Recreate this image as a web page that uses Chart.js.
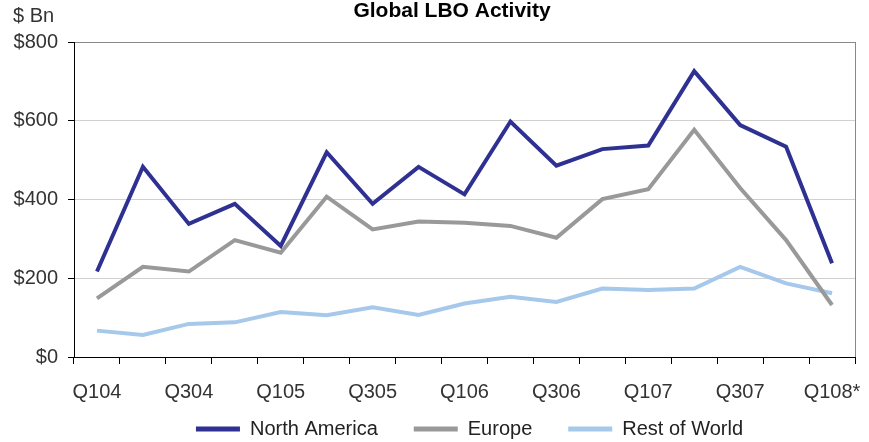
<!DOCTYPE html>
<html>
<head>
<meta charset="utf-8">
<title>Global LBO Activity</title>
<script src="https://cdn.jsdelivr.net/npm/chart.js@4.4.1/dist/chart.umd.min.js"></script>
<style>
  html, body { margin: 0; padding: 0; background: #fff; }
</style>
</head>
<body>
<canvas id="lbo-chart" width="869" height="442"></canvas>
<script>
// Quarterly LBO volume by region, $ Bn
const quarters = ["Q104", "Q204", "Q304", "Q404", "Q105", "Q205", "Q305", "Q405",
  "Q106", "Q206", "Q306", "Q406", "Q107", "Q207", "Q307", "Q407", "Q108*"];
const northAmerica = [217, 483, 338, 389, 282, 520, 389, 483, 413, 598, 486, 528, 537, 726, 589, 534, 238];
const europe = [149, 229, 217, 297, 265, 407, 324, 344, 341, 333, 303, 401, 426, 577, 429, 297, 132];
const restOfWorld = [67, 56, 84, 88, 114, 106, 126, 107, 136, 153, 140, 174, 170, 174, 229, 187, 162];
const yTicks = [0, 200, 400, 600, 800];

const FONT = "'Liberation Sans', Arial, sans-serif";
Chart.defaults.font.family = FONT;

// title, unit label, and a small shift so the legend sits under the plot
const headings = {
  id: "headings",
  afterLayout(chart) {
    const lg = chart.legend;
    lg.left += 84;
    lg.top -= 19;
    lg.bottom -= 19;
  },
  afterDraw(chart) {
    const ctx = chart.ctx;
    ctx.save();
    ctx.fillStyle = "#000";
    ctx.font = "bold 21px " + FONT;
    ctx.textAlign = "center";
    ctx.textBaseline = "alphabetic";
    ctx.fillText("Global LBO Activity", 452, 17);
    ctx.fillStyle = "#333";
    ctx.font = "20px " + FONT;
    ctx.textAlign = "left";
    ctx.fillText("$ Bn", 13, 22);
    ctx.restore();
  }
};

const lineSet = (label, data, color) => ({
  label: label,
  data: data,
  borderColor: color,
  backgroundColor: color,
  borderWidth: 4,
  borderJoinStyle: "miter",
  pointRadius: 0,
  tension: 0,
  fill: false
});

new Chart(document.getElementById("lbo-chart"), {
  type: "line",
  data: {
    labels: quarters,
    datasets: [
      lineSet("North America", northAmerica, "#2e3192"),
      lineSet("Europe", europe, "#999999"),
      lineSet("Rest of World", restOfWorld, "#a6c8ea")
    ]
  },
  options: {
    responsive: false,
    animation: false,
    devicePixelRatio: 1,
    layout: { padding: { top: 42, right: 14, bottom: -26, left: 0 } },
    plugins: {
      tooltip: { enabled: false },
      title: { display: false },
      legend: {
        position: "bottom",
        labels: {
          usePointStyle: true,
          pointStyle: "line",
          pointStyleWidth: 44,
          padding: 36,
          color: "#222",
          font: { size: 20 },
          generateLabels(chart) {
            return Chart.defaults.plugins.legend.labels.generateLabels(chart)
              .map((item) => Object.assign(item, { lineWidth: 5 }));
          }
        }
      }
    },
    scales: {
      x: {
        offset: true,
        afterFit(scale) {
          scale.height = 45;
          // the last label may hang past the frame
          scale.paddingLeft = 0;
          scale.paddingRight = 0;
        },
        grid: {
          offset: true,
          drawOnChartArea: true,
          // only the closing right edge of the frame is drawn
          color: (ctx) => (ctx.type === "scale" ? "#888" : "rgba(0,0,0,0)"),
          tickColor: "#000",
          tickLength: 7
        },
        border: { display: true, color: "#000", width: 1 },
        ticks: {
          autoSkip: false,
          maxRotation: 0,
          padding: 16,
          color: "#333",
          font: { size: 20 },
          callback(value, index) {
            return index % 2 === 0 ? this.getLabelForValue(value) : "";
          }
        }
      },
      y: {
        min: yTicks[0],
        max: yTicks[yTicks.length - 1],
        afterFit(scale) { scale.width = 74; },
        afterBuildTicks(scale) {
          scale.ticks = yTicks.map((v) => ({ value: v }));
        },
        grid: {
          color: (ctx) => {
            if (ctx.tick && ctx.tick.value === 800) return "#888";
            if (ctx.tick && ctx.tick.value === 0) return "rgba(0,0,0,0)";
            return "#d0d0d0";
          },
          tickColor: "#000",
          tickLength: 6
        },
        border: { display: true, color: "#000", width: 1 },
        ticks: {
          padding: 10,
          color: "#333",
          font: { size: 20 },
          callback: (value) => "$" + value
        }
      }
    }
  },
  plugins: [headings]
});
</script>
</body>
</html>
